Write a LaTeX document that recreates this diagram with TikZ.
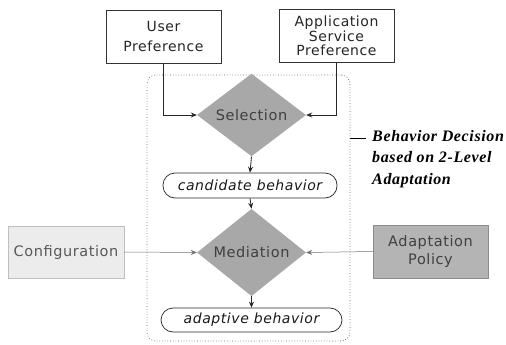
\documentclass[tikz,border=0pt]{standalone}
\usepackage{fontspec}
\usetikzlibrary{shapes.geometric,arrows.meta}
\newfontfamily\gfont[LetterSpace=4]{DejaVu Sans}
\newfontfamily\capfont[LetterSpace=4]{Liberation Serif}
\definecolor{dfill}{HTML}{A8A8A8}
\definecolor{dtext}{HTML}{404040}
\definecolor{cfill}{HTML}{ECECEC}
\definecolor{pfill}{HTML}{B4B4B4}
\tikzset{
  tip/.style={-{Stealth[length=6pt,width=5pt]}},
  wbox/.style={draw=black!80, line width=0.8pt, fill=white, minimum width=115pt, minimum height=53pt, inner sep=0pt, align=center, font=\gfont\fontsize{14}{15.5}\selectfont, text=black!85},
  dia/.style={diamond, fill=dfill, inner sep=0pt, minimum width=109pt, minimum height=71pt, font=\gfont\fontsize{14.5}{17}\selectfont, text=dtext},
  pill/.style={draw=black!85, line width=0.7pt, rounded corners=12pt, fill=white, inner sep=0pt, font=\gfont\itshape\fontsize{14}{16}\selectfont, text=black!90},
  gbox/.style={minimum width=116pt, minimum height=52pt, inner sep=0pt, align=center, font=\gfont\fontsize{14.5}{16}\selectfont},
  conn/.style={tip, line width=0.8pt, black!85},
  gconn/.style={tip, line width=0.5pt, black!55},
}
\begin{document}
\begin{tikzpicture}[x=1pt,y=-1pt]
\useasboundingbox (0,0) rectangle (506,345);
% dashed group
\node[draw=black!60, dotted, line width=0.7pt, rounded corners=9pt, minimum width=203pt, minimum height=266pt, inner sep=0pt] (grp) at (248.5,208) {};
\node[wbox] (up) at (163.5,36.5) {User\\[4pt]Preference};
\node[wbox, font=\gfont\fontsize{14}{14.5}\selectfont] (asp) at (336.5,36) {Application\\Service\\Preference};
\node[dia] (sel) at (251.5,115) {Selection};
\node[pill, minimum width=174pt, minimum height=25pt] (cand) at (250,185.5) {candidate behavior};
\node[dia, minimum height=69pt] (med) at (251.5,252.5) {Mediation};
\node[pill, minimum width=181pt, minimum height=24pt] (adapt) at (251.5,320) {adaptive behavior};
\node[gbox, fill=cfill, draw=black!25, text=black!65] (conf) at (66,252) {Configuration};
\node[gbox, minimum width=115pt, minimum height=53pt, fill=pfill, draw=black!45, text=black!75, font=\gfont\fontsize{14.5}{18}\selectfont] (pol) at (430.5,251.5) {Adaptation\\Policy};
% connectors
\draw[conn] (up.south) |- (sel.west);
\draw[conn] (asp.south) |- (sel.east);
\draw[conn] (sel.south) -- (cand.north);
\draw[conn] (cand.south) -- (med.north);
\draw[conn] (med.south) -- (adapt.north);
\draw[gconn] (conf.east) -- (med.west);
\draw[gconn] (pol.west) -- (med.east);
% caption
\coordinate (lblstart) at (grp.east |- 0,138);
\coordinate (lblend) at (366,138);
\draw[line width=0.8pt] (lblstart) -- (lblend);
\node[anchor=west, align=left, inner sep=0pt, font=\capfont\bfseries\itshape\fontsize{16}{21.5}\selectfont] (cap) at (372,159) {Behavior Decision\\based on 2-Level\\Adaptation};
\end{tikzpicture}
\end{document}
